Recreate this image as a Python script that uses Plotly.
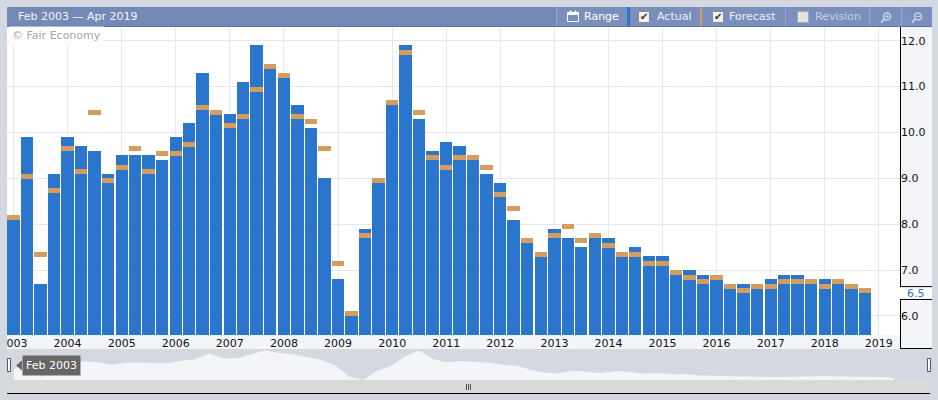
import pandas as pd
import plotly.graph_objects as go

W, H = 938, 400

# quarterly release months, Jan 2003 .. Oct 2018
release = pd.date_range("2003-01-01", periods=64, freq="QS-JAN")

actual = [8.1, 9.9, 6.7, 9.1, 9.9, 9.7, 9.6, 9.1,
          9.5, 9.5, 9.5, 9.4, 9.9, 10.2, 11.3, 10.4,
          10.4, 11.1, 11.9, 11.4, 11.2, 10.6, 10.1, 9.0,
          6.8, 6.1, 7.9, 8.9, 10.7, 11.9, 10.3, 9.6,
          9.8, 9.7, 9.5, 9.1, 8.9, 8.1, 7.6, 7.4,
          7.9, 7.7, 7.5, 7.8, 7.7, 7.4, 7.5, 7.3,
          7.3, 7.0, 7.0, 6.9, 6.8, 6.7, 6.7, 6.7,
          6.8, 6.9, 6.9, 6.8, 6.8, 6.8, 6.7, 6.5]

forecast = [8.2, 9.1, 7.4, 8.8, 9.7, 9.2, 10.5, 9.0,
            9.3, 9.7, 9.2, 9.6, 9.6, 9.8, 10.6, 10.5,
            10.2, 10.4, 11.0, 11.5, 11.3, 10.4, 10.3, 9.7,
            7.2, 6.1, 7.8, 9.0, 10.7, 11.8, 10.5, 9.5,
            9.3, 9.5, 9.5, 9.3, 8.7, 8.4, 7.7, 7.4,
            7.8, 8.0, 7.7, 7.8, 7.6, 7.4, 7.4, 7.2,
            7.2, 7.0, 6.9, 6.8, 6.9, 6.7, 6.6, 6.7,
            6.7, 6.8, 6.8, 6.8, 6.7, 6.8, 6.7, 6.6]

title_text = "Feb 2003 \u2014 Apr 2019"
start_label = "Feb 2003"
x_range = ["2002-11-18", "2019-05-24"]

BLUE = "#2a76cd"
TAN = "#d49c5f"
PAGE = "#d4d8e1"
STRIP = "#f4f5f9"
HEAD = "#7489b5"


def px(x):
    return x / W


def py(y):
    return 1 - y / H


bar_w = 84 * 24 * 3600 * 1000
band_h = 0.11

fig = go.Figure()
fig.add_trace(go.Bar(x=release, y=actual, width=bar_w, name="Actual",
                     marker=dict(color=BLUE, line_width=0)))
fig.add_trace(go.Bar(x=release, y=[band_h] * len(forecast),
                     base=[f - band_h for f in forecast], width=bar_w,
                     name="Forecast", marker=dict(color=TAN, line_width=0)))
# navigator
fig.add_trace(go.Scatter(x=release, y=actual, xaxis="x2", yaxis="y2",
                         mode="lines", line=dict(width=0, color=STRIP),
                         fill="tozeroy", fillcolor=STRIP, hoverinfo="skip"))

shapes = []


def rect(x0, y0, x1, y1, fill, line=None, layer="below", lw=1):
    shapes.append(dict(type="rect", xref="paper", yref="paper",
                       x0=px(x0), x1=px(x1), y0=py(y0), y1=py(y1),
                       fillcolor=fill, layer=layer,
                       line=dict(width=lw if line else 0, color=line or fill)))


def line(x0, y0, x1, y1, color, w=1, layer="above"):
    shapes.append(dict(type="line", xref="paper", yref="paper",
                       x0=px(x0), x1=px(x1), y0=py(y0), y1=py(y1),
                       layer=layer, line=dict(width=w, color=color)))


# header bar
rect(7, 7, 932, 27, HEAD)
rect(556, 7, 932, 26, "#7b8fbd")
line(7, 26.5, 932, 26.5, "#5a73a8")
for sx in [556, 785, 869, 901]:
    line(sx + 0.5, 7, sx + 0.5, 26, "#9aa8cc")
rect(627, 7, 630, 26, BLUE, layer="above")
rect(700, 7, 702, 26, TAN, layer="above")
# calendar icon
rect(567.5, 12.5, 578.5, 21.5, "rgba(0,0,0,0)", line="#ffffff", layer="above")
rect(567.5, 12.5, 578.5, 15, "#ffffff", layer="above")
line(570.5, 10.5, 570.5, 13, "#ffffff", 1.5)
line(575.5, 10.5, 575.5, 13, "#ffffff", 1.5)
# check boxes
rect(638.5, 11.5, 649.5, 22.5, "#f2f2f2", line="#8a8a8a", layer="above")
rect(712.5, 11.5, 723.5, 22.5, "#f2f2f2", line="#8a8a8a", layer="above")
rect(797.5, 11.5, 808.5, 22.5, "#e2e2e2", line="#a8a8a8", layer="above")
# magnifier icons
for cx, plus in [(887, True), (918, False)]:
    shapes.append(dict(type="circle", xref="paper", yref="paper",
                       x0=px(cx - 3.5), x1=px(cx + 3.5), y0=py(13), y1=py(20),
                       line=dict(width=1.5, color="#c9d1e6"), layer="above"))
    line(cx - 2.5, 19, cx - 6, 22.5, "#c9d1e6", 2)
    line(cx - 2, 16.5, cx + 2, 16.5, "#c9d1e6", 1)
    if plus:
        line(cx, 14.5, cx, 18.5, "#c9d1e6", 1)

# axis strips
rect(7, 335, 900, 349, STRIP)
rect(900, 27, 932, 349, STRIP)
line(900.5, 27, 900.5, 349, "#000000")
line(900, 348.5, 932, 348.5, "#000000")
# last value box on the axis
last = actual[-1]
shapes.append(dict(type="rect", xref="paper", yref="y", x0=px(900), x1=px(932),
                   y0=last - 0.14, y1=last + 0.14, fillcolor="#ffffff",
                   line=dict(width=0), layer="above"))
for yy in [last - 0.14, last + 0.14]:
    shapes.append(dict(type="line", xref="paper", yref="y", x0=px(900), x1=px(932),
                       y0=yy, y1=yy, line=dict(width=1, color="#000000"),
                       layer="above"))
# hide clipped part of the first year label
rect(0, 335, 7, 349, PAGE, layer="above")

# navigator
rect(7, 349, 930, 380, PAGE)
rect(7, 380, 930, 393, "#d9d9d9")
line(7, 393.5, 930, 393.5, "#000000")
for gx in [466.5, 468.5, 470.5]:
    line(gx, 384, gx, 390, "#555555")
rect(7.5, 358.5, 10.5, 371.5, "#ffffff", line="#555555", layer="above")
rect(927.5, 358.5, 930.5, 371.5, "#ffffff", line="#555555", layer="above")
shapes.append(dict(type="path", xref="paper", yref="paper",
                   path="M {} {} L {} {} L {} {} Z".format(px(16), py(365.5), px(22), py(360.5), px(22), py(370.5)),
                   fillcolor="#666666", line=dict(width=0), layer="above"))

annotations = [
    dict(text=title_text, x=px(16), y=py(17), xanchor="left", yanchor="middle",
         font=dict(color="#f4f6fa", size=11)),
    dict(text="Range", x=px(582), y=py(17), xanchor="left", yanchor="middle",
         font=dict(color="#ffffff", size=11)),
    dict(text="\u2714", x=px(644), y=py(17), xanchor="center", yanchor="middle",
         font=dict(color="#333333", size=10)),
    dict(text="Actual", x=px(655), y=py(17), xanchor="left", yanchor="middle",
         font=dict(color="#eef1f7", size=11)),
    dict(text="\u2714", x=px(718), y=py(17), xanchor="center", yanchor="middle",
         font=dict(color="#333333", size=10)),
    dict(text="Forecast", x=px(727), y=py(17), xanchor="left", yanchor="middle",
         font=dict(color="#eef1f7", size=11)),
    dict(text="Revision", x=px(813), y=py(17), xanchor="left", yanchor="middle",
         font=dict(color="#c9d1e6", size=11)),
    dict(text="\u00a9 Fair Economy", x=px(9), y=py(35), xanchor="left", yanchor="middle",
         bgcolor="#ffffff", borderpad=2, font=dict(color="#a6a6a6", size=11)),
    dict(text="{:.1f}".format(last), xref="paper", yref="y", x=px(905), y=last,
         xanchor="left", yanchor="middle", font=dict(color=BLUE, size=11)),
    dict(text=start_label, x=px(22), y=py(365.5), xanchor="left", yanchor="middle",
         bgcolor="#666666", borderpad=3, font=dict(color="#ffffff", size=11)),
]
for a in annotations:
    a.setdefault("xref", "paper")
    a.setdefault("yref", "paper")
    a["showarrow"] = False

fig.update_layout(
    width=W, height=H, margin=dict(l=0, r=0, t=0, b=0, autoexpand=False),
    paper_bgcolor=PAGE, plot_bgcolor="#ffffff",
    barmode="overlay", bargap=0, showlegend=False,
    font=dict(family="DejaVu Sans", size=11, color="#111111"),
    xaxis=dict(type="date", domain=[px(7), px(900)], range=x_range,
               dtick="M12", tick0="2003-01-01", tickformat="%Y",
               ticklabeloverflow="allow", automargin=False,
               showgrid=True, gridcolor="#e6e7ef", gridwidth=1, ticks="",
               zeroline=False, showline=False, anchor="y", fixedrange=True),
    yaxis=dict(domain=[py(335), py(27)], range=[5.585, 12.30], side="right",
               dtick=1, tick0=6, tickformat=".1f", showgrid=True, automargin=False,
               gridcolor="#e6e7ef", gridwidth=1, ticks="", zeroline=False,
               showline=False, anchor="x", fixedrange=True),
    xaxis2=dict(type="date", domain=[px(7), px(930)], range=x_range,
                visible=False, anchor="y2", fixedrange=True),
    yaxis2=dict(domain=[py(380), py(349)], range=[6.1, 12.2], visible=False,
                anchor="x2", fixedrange=True),
    shapes=shapes,
    annotations=annotations,
)

# the page body has a default 8px margin; drop it so the figure fills the window
fig.write_html("out.html", config={"displayModeBar": False},
               post_script="document.body.style.margin='0';"
                           "document.body.style.background='%s';" % PAGE)
